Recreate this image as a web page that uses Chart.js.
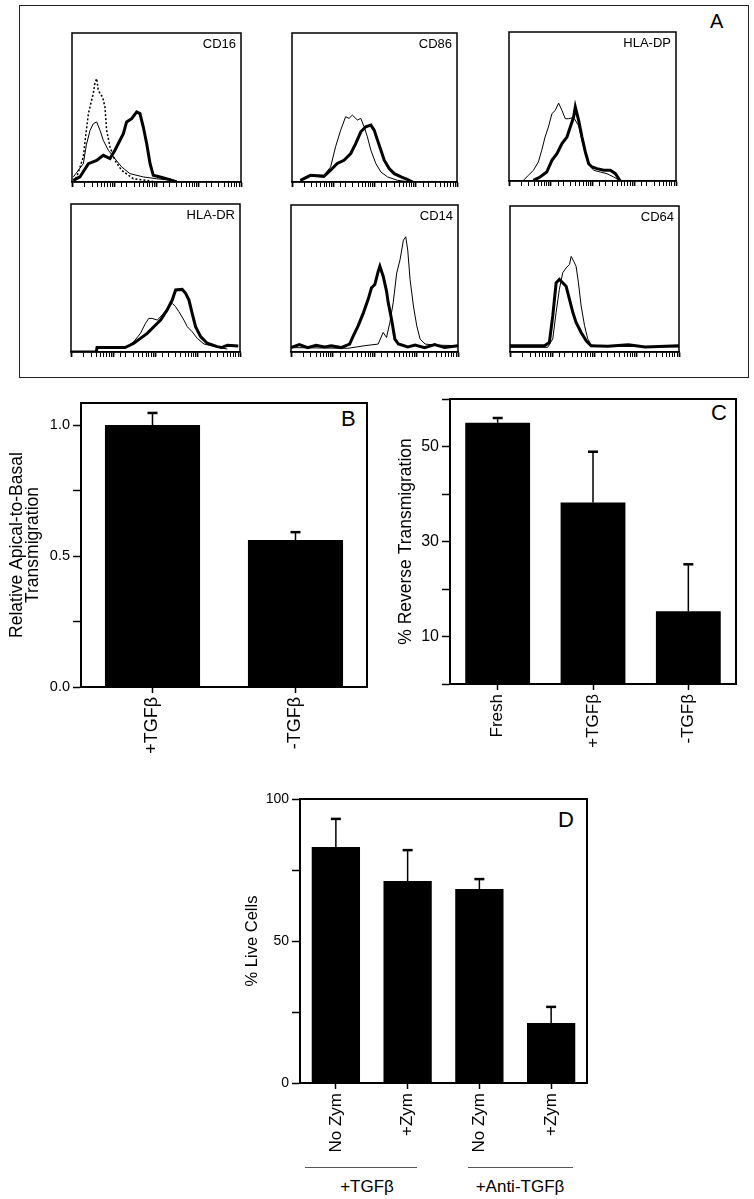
<!DOCTYPE html>
<html>
<head>
<meta charset="utf-8">
<script src="https://cdn.jsdelivr.net/npm/chart.js@4"></script>
<style>
  body { margin: 0; background: #fff; width: 754px; height: 1199px; position: relative; overflow: hidden;
         font-family: 'Liberation Sans', Arial, sans-serif; }
  .pane { position: absolute; }
  .lbl { position: absolute; color: #000; line-height: 1; white-space: nowrap; }
</style>
</head>
<body>
<div style="position:absolute;left:19px;top:5px;width:728px;height:371px;border:1.5px solid #222"></div>
<div class="lbl" style="left:710px;top:11px;font-size:20px">A</div>
<div class="lbl" style="left:341px;top:408px;font-size:22px">B</div>
<div class="lbl" style="left:711px;top:402px;font-size:22px">C</div>
<div class="lbl" style="left:558px;top:809px;font-size:22px">D</div>

<div style="position:absolute;left:305px;top:1167px;width:112px;height:0;border-top:1px solid #555"></div>
<div style="position:absolute;left:468px;top:1167px;width:105px;height:0;border-top:1px solid #555"></div>
<div class="lbl" style="left:317px;top:1178px;width:100px;text-align:center;font-size:17px">+TGFβ</div>
<div class="lbl" style="left:460px;top:1178px;width:120px;text-align:center;font-size:17px">+Anti-TGFβ</div>

<div class="pane" id="h0"><canvas></canvas></div>
<div class="pane" id="h1"><canvas></canvas></div>
<div class="pane" id="h2"><canvas></canvas></div>
<div class="pane" id="h3"><canvas></canvas></div>
<div class="pane" id="h4"><canvas></canvas></div>
<div class="pane" id="h5"><canvas></canvas></div>
<div class="pane" id="pB"><canvas></canvas></div>
<div class="pane" id="pC"><canvas></canvas></div>
<div class="pane" id="pD"><canvas></canvas></div>

<script>
// ---- panel A: flow histograms, x = channel (% of 4-decade log range), y = % of full scale ----
const markers = ['CD16', 'CD86', 'HLA-DP', 'HLA-DR', 'CD14', 'CD64'];

const cd16Iso = [[0.8,0],[3,4],[6.7,16.8],[8,30],[9.7,45.9],[11,52],[12.6,59.3],[13.5,66],[14.6,69.4],[15.5,62],[16.6,59.3],[18.1,57],[19.5,50.3],[20.5,34.7],[22.5,23.5],[25.4,14.5],[29.4,7.8],[36.3,2.2],[44.2,1.1],[50,0]];
const cd16Thin = [[0.8,3.4],[6.7,12.3],[8.5,25],[10.7,34.7],[12.6,39.1],[14.6,40.3],[16.6,34.7],[18.5,28],[21.5,21.3],[25.4,15.7],[29.4,10.1],[34.3,5.6],[42.2,3.4],[50.1,2.2],[61.9,0.7]];
const cd16Thick = [[0.8,1.1],[4.7,3.4],[9.7,12.3],[14.6,14.5],[18.5,17.9],[22.5,15.7],[25.4,21.3],[28.4,28],[30.4,32.4],[32.3,40.3],[35.3,42.5],[38.3,47],[40.2,45.9],[42.2,36.9],[44.2,25.7],[46.2,12.3],[48.1,4.5],[52.1,3.4],[58,1.6],[61.9,0]];

const cd86Thin = [[5.1,1.1],[11.2,4.5],[19.3,4.5],[23.4,10.1],[26.4,23.6],[29.5,34.8],[32.5,43.8],[34.6,42.7],[36.6,44.9],[39.6,41.6],[41.7,42.7],[43.7,37.1],[45.7,30.3],[47.8,21.3],[50.8,12.4],[53.9,6.7],[57.9,3.4],[64,1.1],[72.2,0]];
const cd86Thick = [[5.1,1.1],[11.2,4.5],[19.3,3.8],[23.4,7.9],[27.4,12.4],[31.5,14.6],[35.6,19.1],[38.6,25.8],[41.7,33.7],[44.7,37.1],[47.8,38.2],[49.8,34.8],[51.8,28.1],[53.9,21.3],[55.9,14.6],[58.9,9],[62,5.6],[66.1,3.4],[70.1,1.6],[73.2,0]];

const dpThin = [[8.6,0.4],[11.6,3.8],[14.6,7.2],[17.6,12.8],[19.6,20.6],[21.6,29.5],[23.6,36.2],[25.7,45.2],[27.7,47.4],[29.7,52.3],[31.7,47.4],[33.7,41.8],[35.7,41.8],[38.7,42.7],[41.7,37.1],[43.7,27.1],[45.7,18.1],[47.7,11.4],[50.7,7.2],[54.7,6],[58.7,4.9],[62.7,2.7],[66.7,0]];
const dpThick = [[14.6,0.4],[18.6,2.7],[22.6,6],[25.7,13.9],[28.7,18.3],[31.7,25.1],[34.7,29.5],[36.7,36.2],[38.7,42.9],[39.7,49.7],[41.7,40.7],[43.7,29.5],[45.7,19.5],[47.7,11.6],[49.7,9.4],[52.7,8.3],[56.7,7.2],[60.7,7.2],[63.7,4.9],[66.7,0]];

const drThin = [[33.2,3.6],[37.2,7],[41.1,12.6],[44.1,19.4],[46,22.7],[48,22.7],[51,21.6],[54,25],[56.9,29.5],[59.9,32.9],[61.9,30.6],[63.8,27.3],[66.8,21.6],[68.8,17.1],[71.7,13.7],[74.7,9.2],[78.7,5.4],[86.6,3.2],[92.5,2]];
const drThick = [[0,0],[15,0],[15.4,3],[32,3],[37.2,5.9],[41.1,9.2],[45.1,12.6],[49,17.1],[53,21.6],[56.9,28.4],[59.9,35.1],[61.9,41.9],[65.8,42.3],[67.8,39.6],[69.8,35.1],[71.7,26.1],[73.7,17.1],[76.7,10.4],[80.6,5.9],[86.6,3.6],[89,3],[92.5,4.5],[99,4]];

const cd14Thin = [[0,3],[34,2.5],[44.2,4.3],[52.2,5.4],[55.2,13.3],[57.2,9.9],[59.2,20],[61.2,33.6],[63.3,53.8],[65.3,62.8],[67.3,76.1],[68.7,78.4],[69.9,69.4],[71.3,49.3],[73.3,31.3],[75.3,17.8],[77.3,8.8],[80.3,5.4],[86.3,4.7],[100,4.3]];
const cd14Thick = [[0,3],[5,5],[10,3],[15,4.5],[20,3.5],[24.1,4.3],[30,3],[35.1,5.4],[37.3,11],[40.2,17.8],[43.4,26.8],[46.2,35.8],[48.2,43.7],[50.2,45.9],[52.2,54.9],[53.2,58.3],[55.2,51.6],[57.2,41.4],[58.2,33.6],[60.2,22.3],[62.2,8.8],[64.3,5.4],[70,3.5],[74.3,4.7],[80,3],[86,5],[92,3],[100,4.3]];

const cd64Thin = [[0,3.2],[22.3,3.2],[25.3,9],[27.3,27.2],[29.2,42.9],[31.2,54.2],[33.2,57.6],[35.2,59.9],[36.2,65.5],[37.7,62.1],[39.1,58.7],[40.5,47.4],[42.1,31.5],[44.1,18.1],[46,9],[48,4.8],[57.9,3.9],[100,3.5]];
const cd64Thick = [[0,4.3],[20.4,4.3],[23.3,6.6],[25.3,24.7],[27.3,47.4],[29.2,49.7],[31.2,47.4],[33.2,45.1],[35.2,36.1],[37.2,27],[39.1,20.2],[42.1,13.4],[45.1,7.7],[48,4.3],[57.9,3.9],[70,5],[80,3.5],[100,4.3]];

// ---- panels B, C, D ----
const bLabels = ['+TGF\u03b2', '-TGF\u03b2'];
const bValues = [1.0, 0.561];
const bErrors = [0.046, 0.03];
const bTicks = [0, 0.5, 1.0];

const cLabels = ['Fresh', '+TGF\u03b2', '-TGF\u03b2'];
const cValues = [55.0, 38.2, 15.3];
const cErrors = [1.0, 10.7, 9.9];
const cTicks = [10, 30, 50];

const dLabels = ['No Zym', '+Zym', 'No Zym', '+Zym'];
const dValues = [83.1, 71.1, 68.3, 21.1];
const dErrors = [9.9, 10.9, 3.5, 5.7];
const dTicks = [0, 50, 100];

Chart.defaults.font.family = "'Liberation Sans', Arial, sans-serif";
Chart.defaults.color = '#000';
Chart.defaults.animation = false;

const framePlugin = {
  id: 'frame',
  afterDraw(chart, args, opts) {
    const a = chart.chartArea, ctx = chart.ctx;
    ctx.save();
    ctx.strokeStyle = opts.color || '#000';
    ctx.lineWidth = opts.width || 1.5;
    ctx.strokeRect(a.left, a.top, a.right - a.left, a.bottom - a.top);
    ctx.restore();
  }
};

const cornerLabel = {
  id: 'cornerLabel',
  afterDraw(chart, args, opts) {
    if (!opts.text) return;
    const a = chart.chartArea, ctx = chart.ctx;
    ctx.save();
    ctx.font = "13px 'Liberation Sans', Arial, sans-serif";
    ctx.fillStyle = '#000';
    ctx.textAlign = 'right';
    ctx.textBaseline = 'middle';
    ctx.fillText(opts.text, a.right - 5, a.top + 11);
    ctx.restore();
  }
};

const errorBars = {
  id: 'errorBars',
  afterDatasetsDraw(chart, args, opts) {
    const meta = chart.getDatasetMeta(0);
    const ys = chart.scales.y, ctx = chart.ctx;
    const vals = chart.data.datasets[0].data;
    ctx.save();
    ctx.strokeStyle = '#000';
    meta.data.forEach((bar, i) => {
      const top = ys.getPixelForValue(vals[i] + opts.errors[i]);
      ctx.lineWidth = 1.5;
      ctx.beginPath(); ctx.moveTo(bar.x, bar.y); ctx.lineTo(bar.x, top); ctx.stroke();
      ctx.lineWidth = 2.5;
      ctx.beginPath(); ctx.moveTo(bar.x - opts.cap, top); ctx.lineTo(bar.x + opts.cap, top); ctx.stroke();
    });
    ctx.restore();
  }
};

function place(id, left, top, width, height) {
  const el = document.getElementById(id);
  el.style.left = left + 'px';
  el.style.top = top + 'px';
  el.style.width = width + 'px';
  el.style.height = height + 'px';
  return el.querySelector('canvas');
}

function line(pts, width, dash) {
  return {
    data: pts.map(p => ({ x: p[0], y: p[1] })),
    borderColor: '#000',
    borderWidth: width,
    borderDash: dash || [],
    pointRadius: 0,
    fill: false,
    tension: 0
  };
}

// histogram boxes: [x0, y0, x1, y1]
const boxes = [[72, 33, 241, 182], [292, 33, 457, 182], [509, 32, 676, 181],
               [71, 204, 240, 352], [291, 205, 458, 352], [510, 206, 679, 352]];
const curves = [
  [line(cd16Iso, 1.5, [2, 2]), line(cd16Thin, 1), line(cd16Thick, 3)],
  [line(cd86Thin, 1), line(cd86Thick, 3)],
  [line(dpThin, 1), line(dpThick, 3)],
  [line(drThin, 1), line(drThick, 3)],
  [line(cd14Thin, 1), line(cd14Thick, 3)],
  [line(cd64Thin, 1), line(cd64Thick, 3)]
];

boxes.forEach((b, i) => {
  const cv = place('h' + i, b[0] - 6, b[1] - 6, (b[2] - b[0]) + 12, (b[3] - b[1]) + 6 + 10);
  new Chart(cv, {
    type: 'line',
    data: { datasets: curves[i] },
    options: {
      responsive: true,
      maintainAspectRatio: false,
      layout: { padding: { left: 6, right: 6, top: 6, bottom: 2 } },
      plugins: {
        legend: { display: false },
        tooltip: { enabled: false },
        frame: { width: 1.5 },
        cornerLabel: { text: markers[i] }
      },
      scales: {
        x: { type: 'linear', min: 0, max: 100, display: false },
        lx: {
          type: 'logarithmic', position: 'bottom', min: 1, max: 10000, display: true,
          afterFit: s => { s.height = 8; s.paddingLeft = 0; s.paddingRight = 0; },
          ticks: { display: false },
          grid: { display: true, drawOnChartArea: false, tickLength: 5, tickColor: '#000',
                  tickWidth: c => (c.tick && c.tick.major) ? 1.8 : 1 },
          border: { display: true, color: '#000', width: 1.5 }
        },
        y: { min: 0, max: 100, display: false }
      }
    },
    plugins: [framePlugin, cornerLabel]
  });
});

function barChart(id, pos, pad, yWidth, xHeight, labels, values, errors, yOpts, fonts, barPct, title) {
  const cv = place(id, pos[0], pos[1], pos[2], pos[3]);
  new Chart(cv, {
    type: 'bar',
    data: {
      labels: labels,
      datasets: [{ data: values, backgroundColor: '#000', borderWidth: 0,
                   barPercentage: barPct, categoryPercentage: 1 }]
    },
    options: {
      responsive: true,
      maintainAspectRatio: false,
      layout: { padding: pad },
      plugins: {
        legend: { display: false },
        tooltip: { enabled: false },
        frame: { width: 2 },
        errorBars: { errors: errors, cap: 5 }
      },
      scales: {
        x: {
          afterFit: s => { s.height = xHeight; s.paddingLeft = 0; s.paddingRight = 0; },
          grid: { display: true, drawOnChartArea: false, offset: false, tickLength: 6, tickColor: '#000', tickWidth: 1.5 },
          border: { display: true, color: '#000', width: 2 },
          ticks: { minRotation: 90, maxRotation: 90, padding: 4, autoSkip: false,
                   font: { size: fonts.x }, color: '#000' }
        },
        y: {
          min: yOpts.min, max: yOpts.max,
          afterFit: s => { s.width = yWidth; s.paddingTop = 0; s.paddingBottom = 0; },
          grid: { display: true, drawOnChartArea: false, tickLength: 8, tickColor: '#000', tickWidth: 1.5 },
          border: { display: true, color: '#000', width: 2 },
          ticks: {
            stepSize: yOpts.step, includeBounds: false, padding: 3,
            font: { size: fonts.y }, color: '#000',
            callback: v => yOpts.labels.some(t => Math.abs(t - v) < 1e-6) ? yOpts.fmt(v) : ''
          },
          title: { display: true, text: title, padding: 0, color: '#000',
                   font: { size: fonts.title, lineHeight: fonts.lh } }
        }
      }
    },
    plugins: [framePlugin, errorBars]
  });
}

barChart('pB', [0, 395, 375, 382], { left: 9, top: 8, right: 8, bottom: 0 }, 72, 90,
  bLabels, bValues, bErrors,
  { min: 0, max: 1.084, step: 0.25, labels: bTicks, fmt: v => v.toFixed(1) },
  { x: 18, y: 14.5, title: 17.5, lh: 0.92 }, 0.665, ['Relative Apical-to-Basal', 'Transmigration']);

barChart('pC', [388, 391, 366, 383], { left: 9, top: 8, right: 18, bottom: 0 }, 53, 90,
  cLabels, cValues, cErrors,
  { min: 0, max: 60, step: 10, labels: cTicks, fmt: v => String(v) },
  { x: 17, y: 16, title: 17.5, lh: 1 }, 0.68, '% Reverse Transmigration');

barChart('pD', [230, 791, 370, 362], { left: 14, top: 8, right: 13, bottom: 0 }, 56, 70,
  dLabels, dValues, dErrors,
  { min: 0, max: 100, step: 25, labels: dTicks, fmt: v => String(v) },
  { x: 17, y: 14, title: 16.5, lh: 1 }, 0.673, '% Live Cells');
</script>
</body>
</html>
